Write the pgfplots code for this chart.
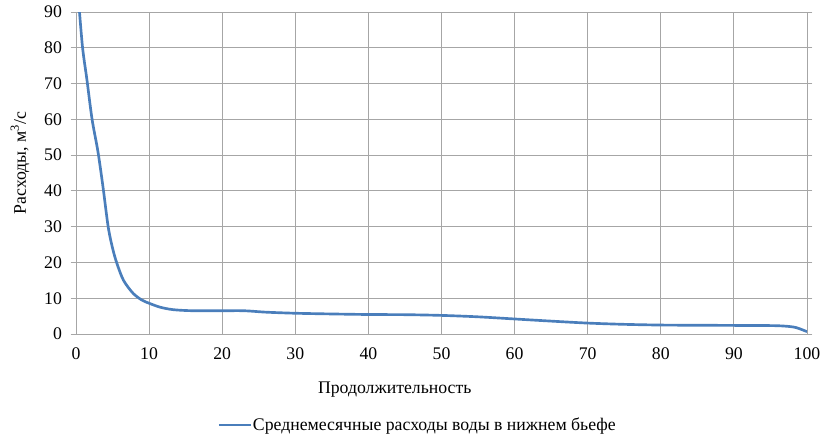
\documentclass[border=0pt]{standalone}
\usepackage{fontspec}
\setmainfont{Liberation Serif}
\usepackage{pgfplots}
\pgfplotsset{compat=1.18}
\definecolor{linecol}{HTML}{4A7EBB}
\definecolor{gridcol}{HTML}{A6A6A6}
\begin{document}
\begin{tikzpicture}
\path[use as bounding box] (-57pt,-81pt) rectangle (568.5pt,250.5pt);
\begin{axis}[
  at={(0,0)}, anchor=south west,
  scale only axis,
  width=548.25pt, height=241.5pt,
  xmin=0, xmax=100, ymin=0, ymax=90,
  xtick={0,10,...,100}, ytick={0,10,...,90},
  grid=major,
  major grid style={gridcol, line width=0.75pt},
  axis line style={gridcol, line width=0.75pt},
  tick align=outside,
  major tick length=4pt,
  tick style={gridcol, line width=0.75pt},
  xtick style={draw=none},
  /pgf/number format/assume math mode=true,
  font=\fontsize{13.3pt}{15pt}\selectfont,
  ticklabel style={font=\fontsize{13.3pt}{15pt}\selectfont},
  xticklabel style={yshift=-3pt},
  yticklabel style={xshift=-3pt},
  xlabel={Продолжительность},
  ylabel={Расходы, м\textsuperscript{3}/с},
  xlabel style={at={(axis description cs:0.436,-0.174)}, anchor=center},
  ylabel style={at={(axis description cs:-0.0766,0.531)}, anchor=center, rotate=0},
  legend style={at={(axis description cs:0.4665,-0.2826)}, anchor=center, draw=none, fill=none,
    font=\fontsize{13.3pt}{15pt}\selectfont, inner sep=0pt, nodes={inner sep=0.5pt}},
  legend image code/.code={\draw[#1, line width=2pt] (0pt,0pt) -- (24pt,0pt);},
  legend cell align=left,
  clip=true,
]
\addplot[linecol, line width=2pt, smooth, tension=0.5] coordinates {
(0.4,92) (0.9,80) (1.5,71) (2.2,60) (3.0,51) (3.7,41) (4.4,30) (5.0,24) (5.6,19.7)
(6.5,15) (7.8,11.4) (9.0,9.5) (10,8.6) (11.5,7.5) (13.3,6.8) (16,6.5) (20,6.5)
(23,6.5) (26,6.1) (30,5.8) (35,5.6) (40,5.45) (45,5.4) (50,5.2) (55,4.8) (60,4.2)
(65,3.6) (70,3.05) (75,2.7) (80,2.5) (85,2.45) (90,2.4) (95,2.35) (97,2.2)
(98.5,1.8) (100,0.65)
};
\addlegendentry{Среднемесячные расходы воды в нижнем бьефе}
\end{axis}
\end{tikzpicture}
\end{document}
